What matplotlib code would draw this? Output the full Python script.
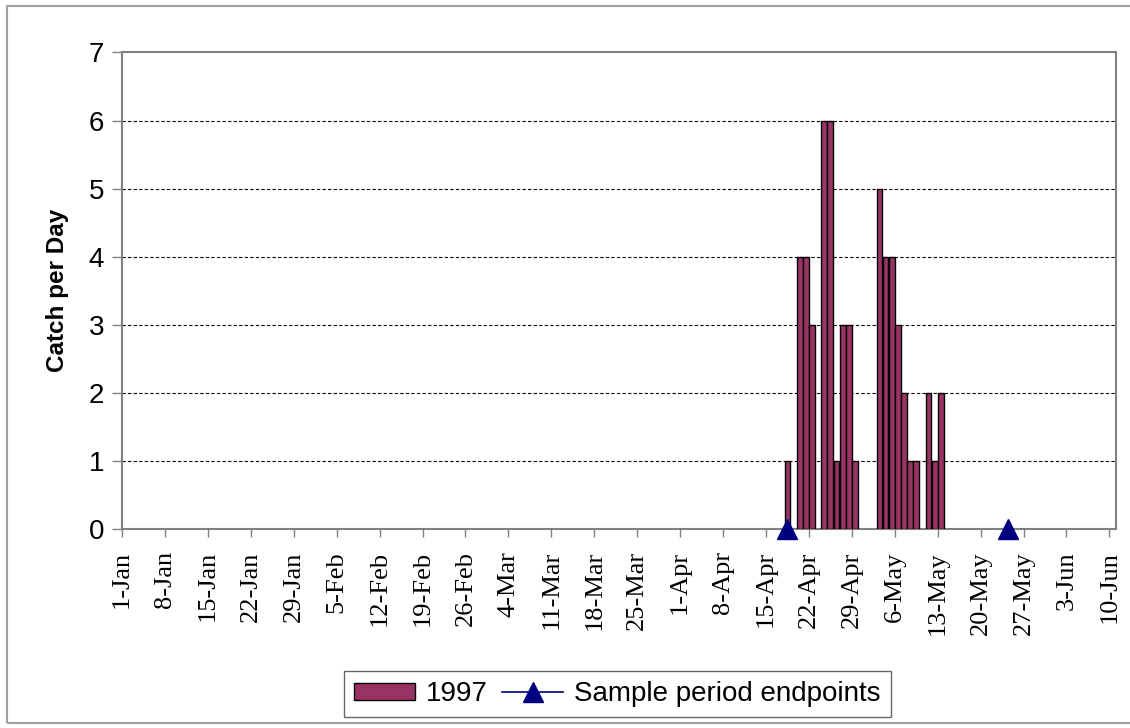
#!/usr/bin/env python3
# -*- coding: utf-8 -*-

import matplotlib
matplotlib.use('Agg')
import matplotlib.pyplot as plt
import matplotlib.dates as mdates
from matplotlib.lines import Line2D
from matplotlib.patches import Patch, Rectangle
import pandas as pd

# 元のグラフの日付軸はうるう年基準 (26-Feb の次が 4-Mar) なので 1996 年で配置する
axis_year = '1996'

# 1997年の日別漁獲数 (月-日)
catch_days = ['04-18', '04-20', '04-21', '04-22', '04-24', '04-25', '04-26',
              '04-27', '04-28', '04-29', '05-03', '05-04', '05-05', '05-06',
              '05-07', '05-08', '05-09', '05-11', '05-12', '05-13']
catch_values = [1, 4, 4, 3, 6, 6, 1, 3, 3, 1, 5, 4, 4, 3, 2, 1, 1, 2, 1, 2]

# サンプル期間の端点
endpoint_days = ['04-18', '05-24']
endpoint_values = [0, 0]

x_start = '01-01'
x_end = '06-11'
tick_start = '01-01'
tick_end = '06-10'
y_ticks = [0, 1, 2, 3, 4, 5, 6, 7]

bar_color = '#993366'
marker_color = '#000080'
axis_gray = '#808080'


def to_num(days):
    return mdates.date2num(pd.to_datetime([f'{axis_year}-{d}' for d in days]))


fig = plt.figure(figsize=(11.3, 7.28), dpi=100)
ax = fig.add_axes([0.108, 0.2734, 0.8792, 0.6545])

# 外枠
fig.patches.append(Rectangle((7 / 1130, 1 - 723 / 728), 1.2, 717 / 728,
                             transform=fig.transFigure, fill=False,
                             edgecolor='#a0a0a0', linewidth=1.5))

ax.bar(to_num(catch_days) + 0.5, catch_values, width=0.95, color=bar_color,
       edgecolor='black', linewidth=1.0, zorder=3)

ax.plot(to_num(endpoint_days) + 0.5, endpoint_values, linestyle='none', marker='^',
        markersize=14, color=marker_color, clip_on=False, zorder=5)

ax.set_xlim(to_num([x_start])[0], to_num([x_end])[0])
ax.set_ylim(0, 7)

ticks = pd.date_range(f'{axis_year}-{tick_start}', f'{axis_year}-{tick_end}', freq='7D')
ax.set_xticks(mdates.date2num(ticks))
ax.set_xticklabels([f'{d.day}-{d.strftime("%b")}' for d in ticks], rotation=90,
                   family='Liberation Serif', fontsize=19)
ax.set_yticks(y_ticks)
ax.set_yticklabels([str(v) for v in y_ticks], family='Liberation Sans', fontsize=20)

ax.tick_params(axis='x', direction='out', length=6, width=1, color=axis_gray, pad=10)
ax.tick_params(axis='y', direction='out', length=7, width=1, color=axis_gray, pad=6)

for v in y_ticks[1:-1]:
    ax.axhline(v, color='black', linestyle=(0, (3, 2)), linewidth=0.8, zorder=1)

for side in ['left', 'bottom', 'top', 'right']:
    ax.spines[side].set_color(axis_gray)
    ax.spines[side].set_linewidth(1.5)

ax.set_ylabel('Catch per Day', family='Liberation Sans', fontweight='bold',
              fontsize=17.5, labelpad=14)

handles = [Patch(facecolor=bar_color, edgecolor='black', linewidth=1.0),
           Line2D([0], [0], color=marker_color, linewidth=1.2, marker='^',
                  markersize=14)]
leg = fig.legend(handles, ['1997', 'Sample period endpoints'],
                 loc='center', bbox_to_anchor=(617.5 / 1130, 1 - 694 / 728),
                 ncol=2, frameon=True, fancybox=False, edgecolor='#404040',
                 prop={'family': 'Liberation Sans', 'size': 20},
                 handlelength=2.2, handleheight=0.55, handletextpad=0.4,
                 columnspacing=0.5, borderpad=0.35)
leg.get_frame().set_linewidth(1.0)

fig.savefig('out.png', dpi=100)
